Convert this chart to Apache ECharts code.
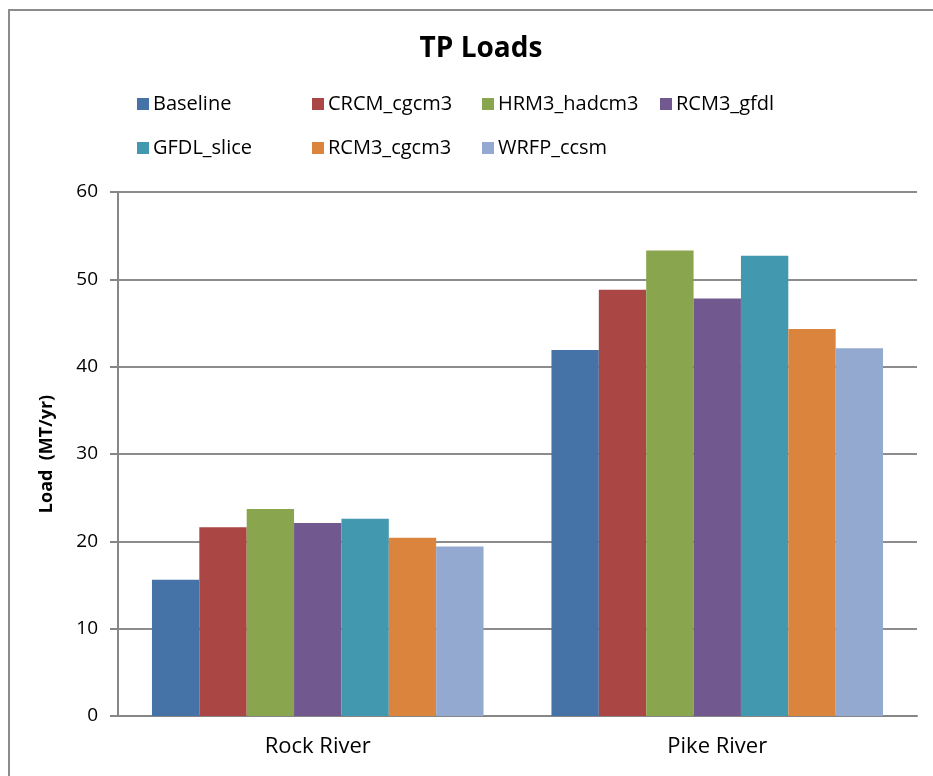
<!DOCTYPE html>
<html><head><meta charset="utf-8">
<script src="https://cdn.jsdelivr.net/npm/echarts@6/dist/echarts.min.js"></script>
<style>html,body{margin:0;padding:0;background:#fff}#c{width:933px;height:776px}</style>
</head><body><div id="c"></div>
<script>
const categories = ['Rock River', 'Pike River'];
const seriesNames = ['Baseline','CRCM_cgcm3','HRM3_hadcm3','RCM3_gfdl','GFDL_slice','RCM3_cgcm3','WRFP_ccsm'];
const baseline = [15.6, 41.9];
const crcmCgcm3 = [21.6, 48.8];
const hrm3Hadcm3 = [23.7, 53.3];
const rcm3Gfdl = [22.1, 47.8];
const gfdlSlice = [22.6, 52.7];
const rcm3Cgcm3 = [20.4, 44.3];
const wrfpCcsm = [19.4, 42.1];
const yTicks = [0, 10, 20, 30, 40, 50, 60];

const values = [baseline, crcmCgcm3, hrm3Hadcm3, rcm3Gfdl, gfdlSlice, rcm3Cgcm3, wrfpCcsm];
const colors = ['#4572a7','#aa4643','#89a54e','#71588f','#4198af','#db843d','#93a9cf'];
const font = 'Open Sans, Lato, sans-serif';

const legendPos = [
  [137, 104], [312, 104], [482, 104], [660, 104],
  [137, 148], [312, 148], [482, 148]
];

const chart = echarts.init(document.getElementById('c'), null, {renderer: 'canvas'});
chart.setOption({
  animation: false,
  backgroundColor: '#fff',
  color: colors,
  title: {
    text: 'TP Loads', left: 476, top: 30, textAlign: 'center',
    textStyle: {fontFamily: font, fontSize: 28, fontWeight: 'bold', color: '#000'}
  },
  graphic: [{
    type: 'rect', shape: {x: 9, y: 10, width: 940, height: 800},
    style: {fill: 'none', stroke: '#8c8c8c', lineWidth: 2}, silent: true
  }],
  legend: seriesNames.map((n, i) => ({
    data: [n], left: legendPos[i][0], top: legendPos[i][1] - 12, padding: 0,
    itemWidth: 12, itemHeight: 12, icon: 'rect',
    textStyle: {fontFamily: font, fontSize: 20, color: '#000', padding: [0,0,0,-1], lineHeight: 24}
  })),
  grid: {left: 118, right: 16, top: 192, bottom: 60},
  xAxis: {
    type: 'category', data: categories,
    axisLine: {lineStyle: {color: '#868686', width: 2}},
    axisTick: {length: 8, lineStyle: {color: '#868686', width: 2}},
    axisLabel: {fontFamily: font, fontSize: 22, color: '#000', margin: 20}
  },
  yAxis: {
    type: 'value', min: yTicks[0], max: yTicks[yTicks.length-1], interval: 10,
    name: 'Load  (MT/yr)', nameLocation: 'middle', nameGap: 62,
    nameTextStyle: {fontFamily: font, fontSize: 18, fontWeight: 'bold', color: '#000'},
    axisLine: {show: true, lineStyle: {color: '#868686', width: 2}},
    axisTick: {show: true, length: 8, lineStyle: {color: '#868686', width: 2}},
    axisLabel: {fontFamily: font, fontSize: 19, color: '#000', margin: 20},
    splitLine: {lineStyle: {color: '#8c8c8c', width: 2}}
  },
  series: seriesNames.map((n, i) => ({
    name: n, type: 'bar', data: values[i],
    barCategoryGap: '17%', barGap: '0%',
    itemStyle: {color: colors[i]}
  }))
});
</script></body></html>
